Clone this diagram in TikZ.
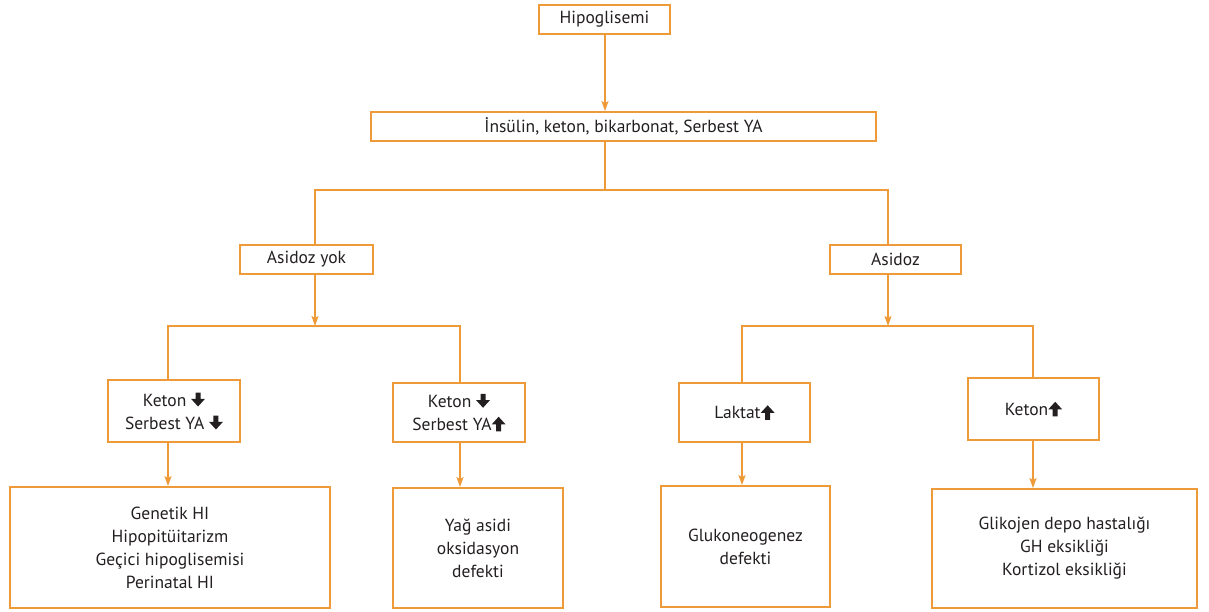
\documentclass[tikz,border=0pt]{standalone}
\usepackage{fontspec}
\setmainfont{PT Sans}
\usetikzlibrary{arrows.meta}
\definecolor{lineor}{RGB}{239,154,56}
\definecolor{txt}{RGB}{35,31,32}
\newcommand{\dnar}{\tikz[x=1pt,y=1pt,baseline=0pt]{\fill[txt] (-2.5,13.5) -- (2.5,13.5) -- (2.5,7.2) -- (7,7.2) -- (0,-0.5) -- (-7,7.2) -- (-2.5,7.2) -- cycle;}}
\newcommand{\upar}{\tikz[x=1pt,y=1pt,baseline=0pt]{\fill[txt] (-2.5,-1) -- (2.5,-1) -- (2.5,5.8) -- (7,5.8) -- (0,13.5) -- (-7,5.8) -- (-2.5,5.8) -- cycle;}}
\begin{document}
\begin{tikzpicture}[x=1pt,y=-1pt,
  box/.style={draw=lineor,line width=1.8pt,align=center,inner sep=0pt,
    text=txt,font=\fontsize{17.5}{23}\selectfont},
  conn/.style={draw=lineor,line width=1.6pt},
  arr/.style={conn,-{Stealth[length=10pt,width=7pt,inset=2pt]}}]
\useasboundingbox (0,0) rectangle (1209,611);
\node[box,minimum width=131pt,minimum height=29pt] (hip) at (604.5,19.5) {Hipoglisemi};
\node[box,minimum width=505pt,minimum height=29pt] (ins) at (623.5,126.5) {İnsülin, keton, bikarbonat, Serbest YA};
\node[box,minimum width=133pt,minimum height=29pt] (ay) at (306.5,259.5) {Asidoz yok};
\node[box,minimum width=131pt,minimum height=29pt] (as) at (895.5,259.5) {Asidoz};
\node[box,minimum width=132pt,minimum height=62pt] (k1) at (174,411) {Keton \dnar\\Serbest YA \dnar};
\node[box,minimum width=132pt,minimum height=59pt] (k2) at (459,412.5) {Keton \dnar\\Serbest YA\upar};
\node[box,minimum width=131pt,minimum height=59pt] (la) at (744.5,412.5) {Laktat\upar};
\node[box,minimum width=131pt,minimum height=62pt] (k3) at (1033.5,409) {Keton\upar};
\node[box,minimum width=320pt,minimum height=121pt] (A) at (170,547.5) {Genetik HI\\Hipopitüitarizm\\Geçici hipoglisemisi\\Perinatal HI};
\node[box,minimum width=170pt,minimum height=120pt] (B) at (478,548) {Yağ asidi\\oksidasyon\\defekti};
\node[box,minimum width=169pt,minimum height=121pt] (C) at (745.5,546.5) {Glukoneogenez\\defekti};
\node[box,minimum width=265pt,minimum height=119pt] (D) at (1064.5,548.5) {Glikojen depo hastalığı\\GH eksikliği\\Kortizol eksikliği};
% junctions
\coordinate (j0) at (605,190);
\coordinate (bl) at (315,190);
\coordinate (br) at (888,190);
\coordinate (m1) at (315,326);
\coordinate (m2) at (888,326);
\coordinate (l1) at (168,326);
\coordinate (l2) at (460,326);
\coordinate (r1) at (742,326);
\coordinate (r2) at (1033,326);
% connectors
\draw[arr] (hip.south -| j0) -- (ins.north -| j0);
\draw[conn] (ins.south -| j0) -- (j0);
\draw[conn] (bl |- ay.north) -- (bl) -- (br) -- (br |- as.north);
\draw[arr] (ay.south -| m1) -- (m1);
\draw[arr] (as.south -| m2) -- (m2);
\draw[conn] (l1 |- k1.north) -- (l1) -- (l2) -- (l2 |- k2.north);
\draw[conn] (r1 |- la.north) -- (r1) -- (r2) -- (r2 |- k3.north);
\draw[arr] (k1.south -| l1) -- (A.north -| l1);
\draw[arr] (k2.south -| l2) -- (B.north -| l2);
\draw[arr] (la.south -| r1) -- (C.north -| r1);
\draw[arr] (k3.south -| r2) -- (D.north -| r2);
\end{tikzpicture}
\end{document}
